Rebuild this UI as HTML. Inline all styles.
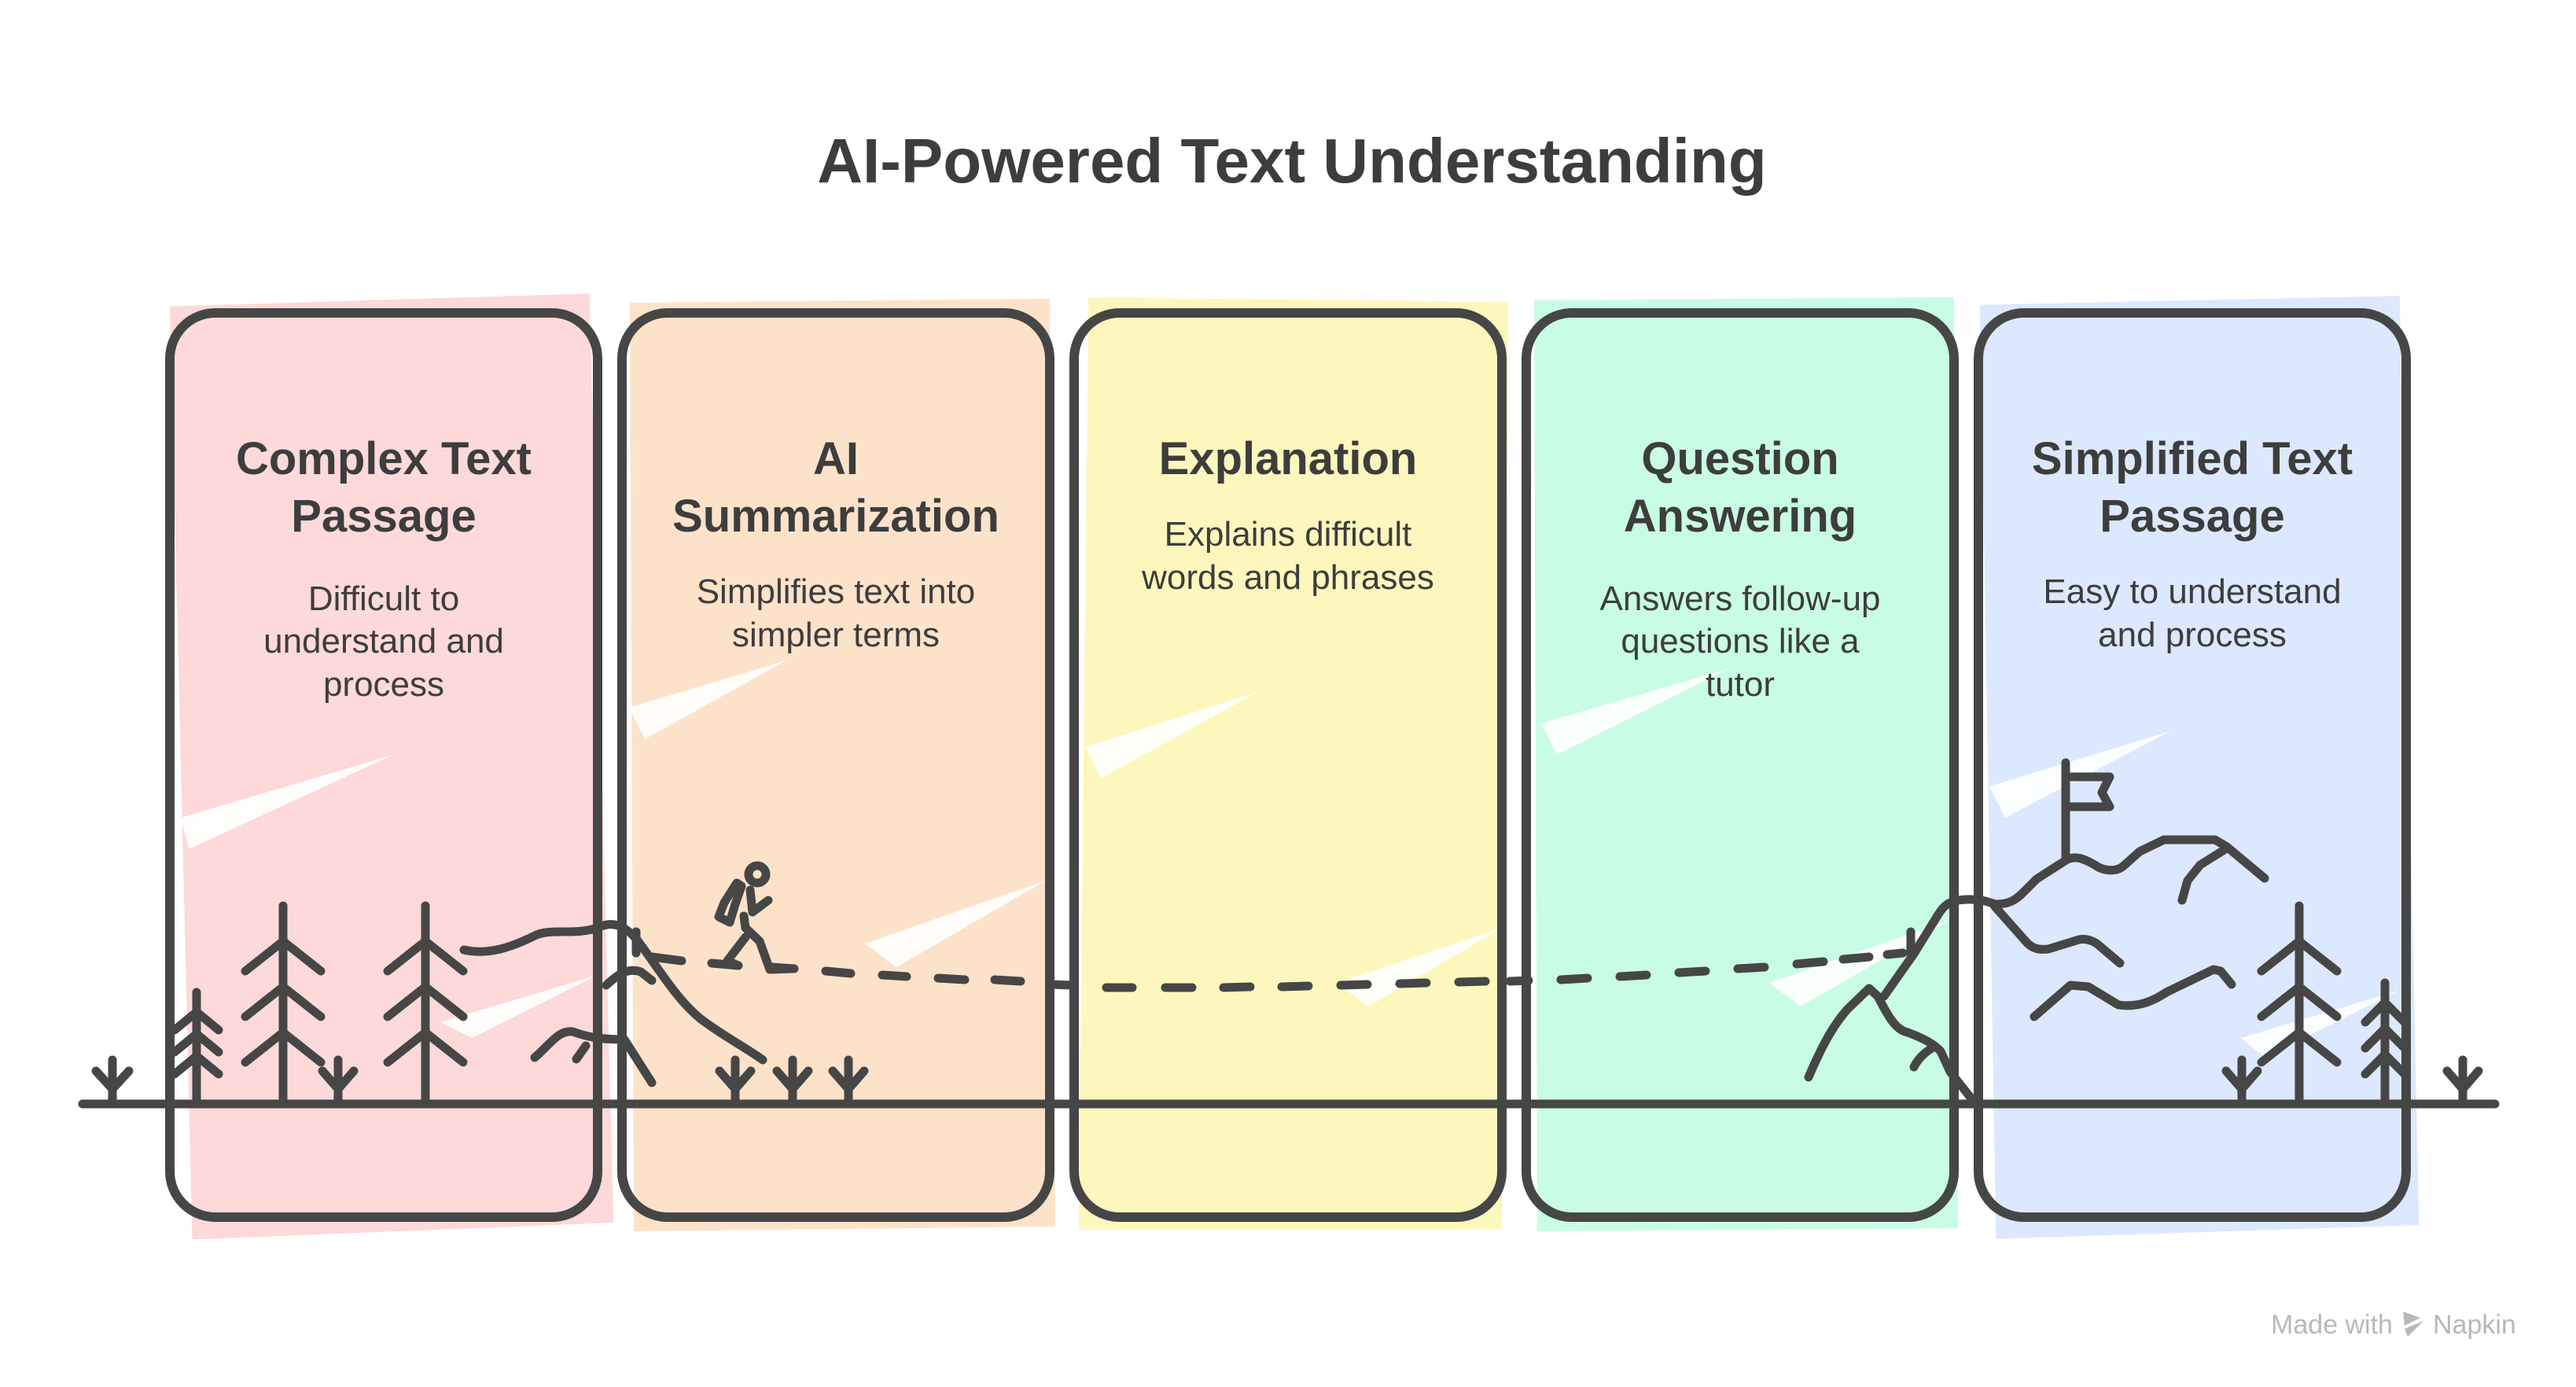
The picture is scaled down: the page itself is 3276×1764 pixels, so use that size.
<!DOCTYPE html>
<html><head><meta charset="utf-8"><style>
html,body{margin:0;padding:0;background:#fff;}
svg{display:block;}
text{font-family:"Liberation Sans",sans-serif;fill:#3d3d3d;}
.h{font-weight:bold;font-size:58px;}
.d{font-size:44px;}
</style></head><body>
<svg width="3276" height="1764" viewBox="0 0 3276 1764" xmlns="http://www.w3.org/2000/svg">
<g>
<polygon points="226,385 760,378 770,1560 234,1572" fill="#fdd9d9" transform="rotate(-1 490 970)"/>
<polygon points="801,385 1335,380 1342,1560 806,1566" fill="#fde2ca"/>
<polygon points="1376,382 1910,380 1918,1560 1380,1568" fill="#fdf7bd" transform="rotate(0.8 1640 970)"/>
<polygon points="1951,382 2485,378 2490,1562 1955,1566" fill="#c8fce4"/>
<polygon points="2526,384 3060,380 3068,1562 2530,1572" fill="#dce8fd" transform="rotate(-0.8 2790 970)"/>
</g>
<g fill="#fff" opacity="0.9">
<polygon points="230,1040 500,960 240,1080"/><polygon points="560,1300 760,1240 600,1320"/>
<polygon points="800,900 1000,840 820,940"/><polygon points="1100,1200 1330,1120 1140,1230"/>
<polygon points="1380,950 1600,880 1400,990"/><polygon points="1700,1250 1910,1180 1740,1280"/>
<polygon points="1960,920 2200,850 1980,960"/><polygon points="2250,1250 2480,1170 2290,1280"/>
<polygon points="2530,1000 2760,930 2550,1040"/><polygon points="2850,1320 3050,1260 2880,1345"/>
</g>
<g fill="none" stroke="#464646" stroke-width="12">
<rect x="216" y="398" width="544" height="1150" rx="58"/>
<rect x="791" y="398" width="544" height="1150" rx="58"/>
<rect x="1366" y="398" width="544" height="1150" rx="58"/>
<rect x="1941" y="398" width="544" height="1150" rx="58"/>
<rect x="2516" y="398" width="544" height="1150" rx="58"/>
</g>
<text x="1643" y="232" text-anchor="middle" font-weight="bold" font-size="80">AI-Powered Text Understanding</text>
<text class="h" x="488" y="603" text-anchor="middle">Complex Text</text>
<text class="h" x="488" y="676" text-anchor="middle">Passage</text>
<text class="d" x="488" y="776" text-anchor="middle">Difficult to</text>
<text class="d" x="488" y="830" text-anchor="middle">understand and</text>
<text class="d" x="488" y="885" text-anchor="middle">process</text>

<text class="h" x="1063" y="603" text-anchor="middle">AI</text>
<text class="h" x="1063" y="676" text-anchor="middle">Summarization</text>
<text class="d" x="1063" y="767" text-anchor="middle">Simplifies text into</text>
<text class="d" x="1063" y="822" text-anchor="middle">simpler terms</text>

<text class="h" x="1638" y="603" text-anchor="middle">Explanation</text>
<text class="d" x="1638" y="694" text-anchor="middle">Explains difficult</text>
<text class="d" x="1638" y="749" text-anchor="middle">words and phrases</text>

<text class="h" x="2213" y="603" text-anchor="middle">Question</text>
<text class="h" x="2213" y="676" text-anchor="middle">Answering</text>
<text class="d" x="2213" y="776" text-anchor="middle">Answers follow-up</text>
<text class="d" x="2213" y="830" text-anchor="middle">questions like a</text>
<text class="d" x="2213" y="885" text-anchor="middle">tutor</text>

<text class="h" x="2788" y="603" text-anchor="middle">Simplified Text</text>
<text class="h" x="2788" y="676" text-anchor="middle">Passage</text>
<text class="d" x="2788" y="767" text-anchor="middle">Easy to understand</text>
<text class="d" x="2788" y="822" text-anchor="middle">and process</text>

<g fill="none" stroke="#464646" stroke-width="11" stroke-linecap="round" stroke-linejoin="round">
<line x1="105" y1="1404" x2="3173" y2="1404"/>
<path d="M143 1404V1348M122 1362L143 1385L164 1362"/>
<path d="M430 1404V1348M410 1362L430 1385L450 1362"/>
<path d="M935 1404V1348M915 1362L935 1385L955 1362"/>
<path d="M1008 1404V1348M988 1362L1008 1385L1028 1362"/>
<path d="M1079 1404V1348M1059 1362L1079 1385L1099 1362"/>
<path d="M2851 1404V1348M2831 1362L2851 1385L2871 1362"/>
<path d="M3132 1404V1348M3112 1362L3132 1385L3152 1362"/>
<path d="M360 1404V1152M312 1235L360 1197L408 1235M312 1293L360 1255L408 1293M312 1351L360 1313L408 1351"/>
<path d="M541 1404V1152M493 1235L541 1197L589 1235M493 1293L541 1255L589 1293M493 1351L541 1313L589 1351"/>
<path d="M250 1404V1262M222 1310L250 1287L278 1310M222 1338L250 1315L278 1338M222 1366L250 1343L278 1366"/>
<path d="M2924 1404V1152M2876 1235L2924 1197L2972 1235M2876 1293L2924 1255L2972 1293M2876 1351L2924 1313L2972 1351"/>
<path d="M3033 1404V1250M3008 1300L3033 1275L3058 1300M3008 1333L3033 1308L3058 1333M3008 1366L3033 1341L3058 1366"/>
<path d="M590 1208C620 1215 650 1205 680 1190C700 1180 730 1190 760 1180C780 1170 795 1178 810 1195C840 1235 860 1270 890 1295C920 1318 945 1330 970 1348"/>
<path d="M771 1253C785 1240 798 1230 815 1236L829 1247"/>
<path d="M680 1345C700 1328 710 1310 728 1312C745 1318 760 1322 794 1322L829 1377"/>
<path d="M733 1347L745 1330"/>
<path d="M809 1185V1212"/>
<path d="M829 1217L867 1222M905 1225L939 1228M981 1230L1010 1232M1050 1235L1082 1238M1122 1240L1153 1242M1193 1244L1227 1246M1265 1246L1298 1248M1338 1252L1361 1253M1407 1256L1440 1256M1482 1256L1516 1256M1556 1256L1590 1255M1630 1255L1664 1254M1705 1253L1739 1252M1780 1251L1814 1250M1855 1249L1889 1248M1920 1248L1944 1247M1985 1246L2019 1244M2060 1242L2094 1240M2135 1237L2169 1235M2210 1232L2244 1230M2285 1226L2319 1223M2344 1220L2377 1217M2400 1214L2420 1212"/>
<path d="M2430 1185V1213"/>
<circle cx="963" cy="1112" r="11"/>
<path d="M937 1123L921 1148L914 1166L928 1173L935 1150L943 1127Z"/>
<path d="M954 1132L957 1160L977 1145"/>
<path d="M946 1165L948 1180L966 1197L979 1233L1008 1232"/>
<path d="M948 1192L925 1222L939 1228"/>
<path d="M2300 1370C2315 1335 2330 1305 2350 1283L2377 1257L2388 1267C2400 1290 2410 1310 2426 1313C2445 1320 2460 1328 2468 1337L2480 1363L2507 1397"/>
<path d="M2396 1267L2434 1213L2465 1163C2472 1152 2478 1147 2490 1145C2510 1142 2525 1145 2537 1150C2552 1150 2560 1147 2570 1138L2590 1118L2629 1093C2640 1088 2650 1092 2664 1100C2675 1108 2692 1110 2702 1100L2721 1083L2752 1068L2817 1068L2832 1077L2880 1117"/>
<path d="M2775 1145L2782 1120L2798 1100L2830 1080"/>
<path d="M2537 1153L2576 1197C2585 1208 2595 1208 2605 1207L2644 1195C2655 1193 2665 1198 2670 1203L2696 1225"/>
<path d="M2587 1293L2633 1253L2656 1255L2694 1278C2720 1282 2740 1272 2755 1262L2815 1233L2824 1235L2838 1252"/>
<path d="M2434 1357C2440 1345 2450 1337 2457 1333"/>
<path d="M2627 1090V970"/>
<path d="M2629 988H2683L2673 1008L2683 1026H2629"/>
</g>
<text x="2888" y="1696" font-size="34" style="fill:#b8b8b8">Made with</text>
<polygon points="3056,1668 3078,1676 3058,1686" fill="#b8b8b8"/>
<polygon points="3058,1690 3082,1680 3062,1700" fill="#b8b8b8"/>
<text x="3094" y="1696" font-size="34" style="fill:#b8b8b8">Napkin</text>
</svg>
</body></html>
